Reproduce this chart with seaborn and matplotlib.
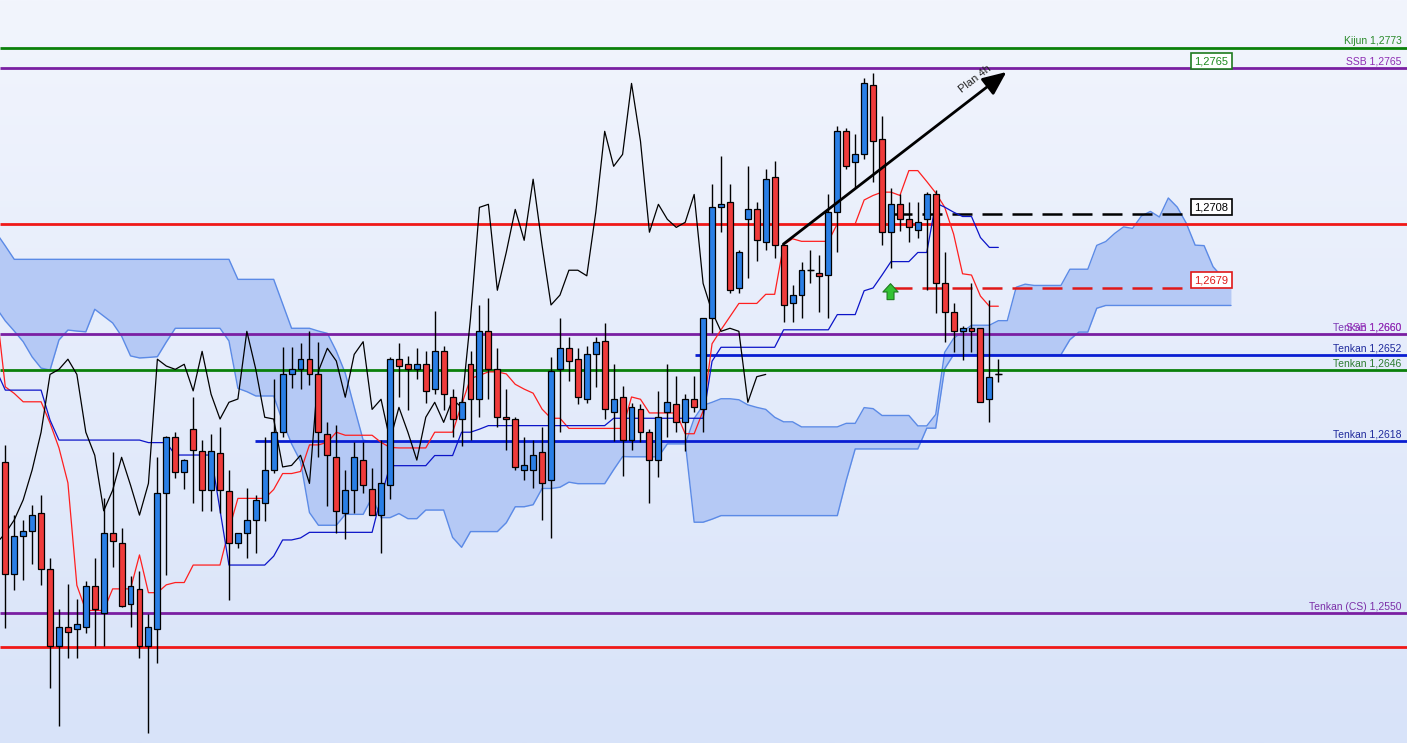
import matplotlib
matplotlib.use("Agg")
import matplotlib.pyplot as plt
import matplotlib.transforms as mtransforms
from matplotlib.colors import LinearSegmentedColormap
import numpy as np
import pandas as pd
import seaborn as sns

# ---- candles (prices) ----
opens = [
    1.26095, 1.25653, 1.25803, 1.25823, 1.25895, 1.25673, 1.25371, 1.25444, 1.25436, 1.25444,
    1.25606, 1.25502, 1.25815, 1.25776, 1.25535, 1.25595, 1.25371, 1.25436, 1.25973, 1.26194,
    1.26056, 1.26227, 1.26141, 1.25985, 1.26133, 1.25983, 1.25776, 1.25815, 1.25868, 1.25934,
    1.26065, 1.26214, 1.26442, 1.26462, 1.26502, 1.26442, 1.26206, 1.26115, 1.25894, 1.25985,
    1.26103, 1.25991, 1.25887, 1.26005, 1.26502, 1.26482, 1.26462, 1.26482, 1.26383, 1.26533,
    1.26352, 1.26266, 1.26482, 1.26345, 1.26612, 1.26462, 1.26273, 1.26266, 1.26064, 1.26064,
    1.26135, 1.26024, 1.26462, 1.26545, 1.26502, 1.26345, 1.26521, 1.26574, 1.26292, 1.26352,
    1.26182, 1.26304, 1.26214, 1.26104, 1.26292, 1.26324, 1.26253, 1.26344, 1.26304, 1.26663,
    1.27101, 1.27121, 1.26782, 1.27054, 1.27093, 1.26963, 1.27220, 1.26951, 1.26723, 1.26755,
    1.26853, 1.26841, 1.26834, 1.27081, 1.27401, 1.27281, 1.27310, 1.27583, 1.27370, 1.27003,
    1.27113, 1.27054, 1.27011, 1.27054, 1.27152, 1.26801, 1.26689, 1.26612, 1.26624, 1.26624,
    1.26344, 1.26442,
]
highs = [
    1.26163, 1.25887, 1.25868, 1.25927, 1.25966, 1.25716, 1.25517, 1.25615, 1.25556, 1.25627,
    1.25716, 1.25953, 1.26136, 1.25835, 1.25646, 1.25666, 1.25496, 1.26117, 1.26199, 1.26216,
    1.26108, 1.26354, 1.26183, 1.26206, 1.26236, 1.26065, 1.25816, 1.25993, 1.25965, 1.26194,
    1.26424, 1.26551, 1.26551, 1.26567, 1.26612, 1.26571, 1.26253, 1.26242, 1.26065, 1.26176,
    1.26176, 1.26072, 1.26183, 1.26512, 1.26567, 1.26515, 1.26545, 1.26535, 1.26692, 1.26554,
    1.26383, 1.26345, 1.26535, 1.26716, 1.26743, 1.26545, 1.26383, 1.26273, 1.26196, 1.26183,
    1.26236, 1.26512, 1.26663, 1.26591, 1.26545, 1.26554, 1.26591, 1.26646, 1.26483, 1.26396,
    1.26328, 1.26324, 1.26227, 1.26378, 1.26483, 1.26436, 1.26365, 1.26436, 1.26663, 1.27192,
    1.27304, 1.27192, 1.26933, 1.27264, 1.27123, 1.27251, 1.27284, 1.26951, 1.26795, 1.26887,
    1.26933, 1.26913, 1.27152, 1.27422, 1.27415, 1.27389, 1.27610, 1.27632, 1.27461, 1.27179,
    1.27152, 1.27123, 1.27123, 1.27163, 1.27169, 1.26924, 1.26723, 1.26634, 1.26801, 1.26624,
    1.26736, 1.26502,
]
lows = [
    1.25443, 1.25593, 1.25632, 1.25695, 1.25611, 1.25206, 1.25056, 1.25324, 1.25324, 1.25423,
    1.25371, 1.25371, 1.25683, 1.25524, 1.25444, 1.25324, 1.25026, 1.25305, 1.25651, 1.26035,
    1.25990, 1.25934, 1.25904, 1.25904, 1.25894, 1.25552, 1.25756, 1.25716, 1.25736, 1.25865,
    1.26053, 1.26196, 1.26387, 1.26383, 1.26400, 1.26115, 1.25924, 1.25815, 1.25793, 1.25894,
    1.25973, 1.25887, 1.25736, 1.25952, 1.26352, 1.26302, 1.26423, 1.26330, 1.26364, 1.26302,
    1.26194, 1.26161, 1.26183, 1.26275, 1.26345, 1.26233, 1.26144, 1.26064, 1.26024, 1.25993,
    1.25866, 1.25795, 1.26214, 1.26416, 1.26324, 1.26330, 1.26393, 1.26265, 1.26179, 1.26042,
    1.26144, 1.26176, 1.25934, 1.26036, 1.26194, 1.26214, 1.26141, 1.26292, 1.26214, 1.26604,
    1.27003, 1.26762, 1.26762, 1.26821, 1.26891, 1.26933, 1.26903, 1.26650, 1.26650, 1.26663,
    1.26801, 1.26689, 1.26663, 1.26924, 1.27252, 1.27176, 1.27291, 1.27200, 1.26951, 1.26861,
    1.27009, 1.26963, 1.26981, 1.26774, 1.26683, 1.26571, 1.26532, 1.26499, 1.26532, 1.26332,
    1.26253, 1.26413,
]
closes = [
    1.25653, 1.25803, 1.25824, 1.25886, 1.25673, 1.25371, 1.25444, 1.25425, 1.25456, 1.25606,
    1.25515, 1.25815, 1.25784, 1.25527, 1.25606, 1.25371, 1.25444, 1.25973, 1.26194, 1.26056,
    1.26103, 1.26143, 1.25985, 1.26141, 1.25985, 1.25776, 1.25815, 1.25868, 1.25947, 1.26065,
    1.26214, 1.26442, 1.26462, 1.26502, 1.26442, 1.26214, 1.26123, 1.25904, 1.25985, 1.26115,
    1.26005, 1.25887, 1.26012, 1.26502, 1.26475, 1.26462, 1.26482, 1.26377, 1.26533, 1.26364,
    1.26266, 1.26332, 1.26345, 1.26612, 1.26462, 1.26273, 1.26266, 1.26077, 1.26083, 1.26123,
    1.26012, 1.26455, 1.26545, 1.26495, 1.26352, 1.26521, 1.26571, 1.26304, 1.26344, 1.26182,
    1.26312, 1.26214, 1.26104, 1.26273, 1.26332, 1.26253, 1.26344, 1.26312, 1.26663, 1.27101,
    1.27113, 1.26774, 1.26924, 1.27093, 1.26971, 1.27212, 1.26951, 1.26716, 1.26755, 1.26853,
    1.26853, 1.26831, 1.27081, 1.27401, 1.27263, 1.27310, 1.27590, 1.27362, 1.27003, 1.27113,
    1.27054, 1.27022, 1.27042, 1.27152, 1.26801, 1.26689, 1.26612, 1.26624, 1.26612, 1.26332,
    1.26433, 1.26442,
]

# ---- ichimoku lines as drawn (first value is the bar just left of the frame) ----
tenkan = [
    1.26704,
    1.26393, 1.26367, 1.26334, 1.26334, 1.26334, 1.26250, 1.26152, 1.26014, 1.25610, 1.25511,
    1.25511, 1.25511, 1.25596, 1.25596, 1.25596, 1.25730, 1.25581, 1.25581, 1.25612, 1.25621,
    1.25621, 1.25690, 1.25690, 1.25690, 1.25690, 1.25829, 1.25953, 1.25953, 1.25953, 1.25953,
    1.25988, 1.26051, 1.26051, 1.26059, 1.26164, 1.26164, 1.26174, 1.26214, 1.26202, 1.26202,
    1.26202, 1.26202, 1.26174, 1.26154, 1.26152, 1.26152, 1.26152, 1.26152, 1.26214, 1.26214,
    1.26214, 1.26322, 1.26426, 1.26438, 1.26452, 1.26452, 1.26444, 1.26403, 1.26384, 1.26368,
    1.26305, 1.26269, 1.26269, 1.26229, 1.26229, 1.26229, 1.26229, 1.26229, 1.26229, 1.26229,
    1.26353, 1.26344, 1.26290, 1.26290, 1.26290, 1.26290, 1.26208, 1.26208, 1.26298, 1.26563,
    1.26618, 1.26670, 1.26722, 1.26722, 1.26722, 1.26758, 1.26758, 1.26954, 1.26977, 1.26967,
    1.26967, 1.26967, 1.26967, 1.27036, 1.27036, 1.27036, 1.27130, 1.27148, 1.27161, 1.27161,
    1.27148, 1.27246, 1.27246, 1.27203, 1.27158, 1.27102, 1.26996, 1.26839, 1.26834, 1.26751,
    1.26711, 1.26711,
]
kijun = [
    1.26458,
    1.26380, 1.26380, 1.26380, 1.26380, 1.26380, 1.26262, 1.26183, 1.26183, 1.26183, 1.26183,
    1.26183, 1.26183, 1.26183, 1.26183, 1.26183, 1.26183, 1.26173, 1.26173, 1.26173, 1.26124,
    1.26124, 1.26124, 1.26124, 1.26124, 1.25907, 1.25690, 1.25690, 1.25690, 1.25690, 1.25690,
    1.25725, 1.25789, 1.25789, 1.25797, 1.25819, 1.25819, 1.25819, 1.25819, 1.25819, 1.25819,
    1.25819, 1.25819, 1.25958, 1.26082, 1.26082, 1.26082, 1.26082, 1.26082, 1.26122, 1.26122,
    1.26122, 1.26214, 1.26214, 1.26226, 1.26240, 1.26240, 1.26240, 1.26240, 1.26240, 1.26240,
    1.26240, 1.26240, 1.26240, 1.26240, 1.26240, 1.26240, 1.26240, 1.26240, 1.26269, 1.26269,
    1.26269, 1.26269, 1.26269, 1.26269, 1.26269, 1.26269, 1.26269, 1.26269, 1.26269, 1.26494,
    1.26549, 1.26549, 1.26549, 1.26549, 1.26549, 1.26549, 1.26549, 1.26618, 1.26618, 1.26618,
    1.26618, 1.26618, 1.26618, 1.26678, 1.26678, 1.26678, 1.26772, 1.26783, 1.26834, 1.26887,
    1.26887, 1.26887, 1.26923, 1.26923, 1.27118, 1.27102, 1.27082, 1.27065, 1.27065, 1.26982,
    1.26943, 1.26943,
]
# cloud, already displaced 26 bars forward (first value left of the frame)
span_a = [
    1.26704,
    1.26653, 1.26613, 1.26571, 1.26511, 1.26467, 1.26459, 1.26578, 1.26617, 1.26613, 1.26610,
    1.26699, 1.26672, 1.26645, 1.26593, 1.26515, 1.26507, 1.26509, 1.26512, 1.26570, 1.26624,
    1.26624, 1.26624, 1.26624, 1.26624, 1.26624, 1.26574, 1.26387, 1.26374, 1.26357, 1.26357,
    1.26357, 1.26256, 1.26168, 1.26099, 1.25897, 1.25847, 1.25847, 1.25847, 1.25890, 1.25890,
    1.25890, 1.25957, 1.25877, 1.25877, 1.25893, 1.25873, 1.25873, 1.25907, 1.25907, 1.25907,
    1.25799, 1.25760, 1.25822, 1.25822, 1.25822, 1.25822, 1.25857, 1.25920, 1.25920, 1.25928,
    1.25992, 1.25992, 1.25997, 1.26017, 1.26011, 1.26011, 1.26011, 1.26011, 1.26066, 1.26118,
    1.26117, 1.26117, 1.26117, 1.26117, 1.26168, 1.26168, 1.26168, 1.26268, 1.26320, 1.26332,
    1.26346, 1.26346, 1.26342, 1.26322, 1.26312, 1.26304, 1.26273, 1.26255, 1.26255, 1.26235,
    1.26235, 1.26235, 1.26235, 1.26235, 1.26249, 1.26249, 1.26311, 1.26307, 1.26280, 1.26280,
    1.26280, 1.26280, 1.26239, 1.26239, 1.26284, 1.26529, 1.26584, 1.26610, 1.26636, 1.26636,
    1.26636, 1.26654, 1.26654, 1.26786, 1.26798, 1.26793, 1.26793, 1.26793, 1.26793, 1.26857,
    1.26857, 1.26857, 1.26951, 1.26966, 1.26998, 1.27024, 1.27018, 1.27067, 1.27085, 1.27063,
    1.27138, 1.27102, 1.27039, 1.26952, 1.26950, 1.26867, 1.26827, 1.26827,
]
span_b = [
    1.27000,
    1.26949, 1.26896, 1.26896, 1.26896, 1.26896, 1.26896, 1.26896, 1.26896, 1.26896, 1.26896,
    1.26896, 1.26896, 1.26896, 1.26896, 1.26896, 1.26896, 1.26896, 1.26896, 1.26896, 1.26896,
    1.26896, 1.26896, 1.26896, 1.26896, 1.26896, 1.26896, 1.26817, 1.26817, 1.26817, 1.26817,
    1.26817, 1.26720, 1.26624, 1.26624, 1.26624, 1.26613, 1.26604, 1.26534, 1.26447, 1.26313,
    1.26183, 1.26175, 1.26175, 1.26175, 1.26175, 1.26175, 1.26175, 1.26175, 1.26175, 1.26175,
    1.26175, 1.26175, 1.26175, 1.26175, 1.26175, 1.26175, 1.26175, 1.26175, 1.26175, 1.26175,
    1.26175, 1.26175, 1.26175, 1.26175, 1.26175, 1.26175, 1.26175, 1.26175, 1.26175, 1.26175,
    1.26175, 1.26175, 1.26175, 1.26175, 1.26175, 1.26175, 1.26175, 1.25859, 1.25859, 1.25871,
    1.25885, 1.25885, 1.25885, 1.25885, 1.25885, 1.25885, 1.25885, 1.25885, 1.25885, 1.25885,
    1.25885, 1.25885, 1.25885, 1.25885, 1.26024, 1.26148, 1.26148, 1.26148, 1.26148, 1.26148,
    1.26148, 1.26148, 1.26148, 1.26230, 1.26230, 1.26464, 1.26520, 1.26520, 1.26520, 1.26520,
    1.26520, 1.26520, 1.26520, 1.26520, 1.26520, 1.26520, 1.26520, 1.26520, 1.26520, 1.26579,
    1.26609, 1.26609, 1.26703, 1.26714, 1.26714, 1.26714, 1.26714, 1.26714, 1.26714, 1.26714,
    1.26714, 1.26714, 1.26714, 1.26714, 1.26714, 1.26714, 1.26714, 1.26714,
]
chikou_lag = 26

# ---- horizontal levels ----
level_prices = [1.2773, 1.2765, 1.27034, 1.2660, 1.2652, 1.2646, 1.2618, 1.2550, 1.25367]
level_colors = ["#0a800a", "#7a1fa2", "#f01818", "#7a1fa2", "#0a1ed2",
                "#0a800a", "#0a1ed2", "#7a1fa2", "#f01818"]
level_starts = [None, None, None, None, 77.1, None, 27.9, None, None]
level_labels = [
    ("Kijun 1,2773", "#2a8a2a"),
    ("SSB 1,2765", "#8e2db3"),
    None,
    ("Tenkan 1,2660", "#7b39b5"),
    ("Tenkan 1,2652", "#1f2a9c"),
    ("Tenkan 1,2646", "#2e7d32"),
    ("Tenkan 1,2618", "#1f2a9c"),
    ("Tenkan (CS) 1,2550", "#7b2fa8"),
    None,
]
extra_label = ("SSB 1,2660", "#9b30b8", 1.2660)

dashed_prices = [1.27075, 1.26783]
dashed_colors = ["black", "#e01818"]
box_labels = [("1,2765", 1.27678, "#1f8a1f", "#1f7a1f"),
              ("1,2708", 1.27102, "black", "black"),
              ("1,2679", 1.26814, "#e01818", "#e01818")]

sns.set_style("white")
plt.rcParams["font.family"] = ["Liberation Sans", "DejaVu Sans"]

fig = plt.figure(figsize=(14.07, 7.43), dpi=100)
ax = fig.add_axes([0, 0, 1, 1])

x_lo, x_hi = -0.592, 156.68
y_lo, y_hi = 1.24988, 1.27919

# background gradient
bg = LinearSegmentedColormap.from_list("bg", ["#f2f5fd", "#d8e3f9"])
ax.imshow(np.linspace(0, 1, 256).reshape(-1, 1), cmap=bg, aspect="auto",
          extent=(x_lo, x_hi, y_lo, y_hi), zorder=0)

candles = pd.DataFrame({"open": opens, "high": highs, "low": lows, "close": closes})
candles["pos"] = np.arange(len(candles))
lines = pd.DataFrame({"pos": np.arange(len(tenkan)) - 1, "tenkan": tenkan, "kijun": kijun})
chikou = pd.DataFrame({"pos": candles["pos"] - chikou_lag, "close": candles["close"]})
cloud = pd.DataFrame({"pos": np.arange(len(span_a)) - 1, "span_a": span_a, "span_b": span_b})

# cloud
ax.fill_between(cloud["pos"], cloud["span_a"], cloud["span_b"],
                color="#b5c9f5", lw=0, zorder=1)
sns.lineplot(data=cloud, x="pos", y="span_a", color="#5b8ae6", lw=1, ax=ax, zorder=2)
sns.lineplot(data=cloud, x="pos", y="span_b", color="#5b8ae6", lw=1, ax=ax, zorder=2)

# levels
for p, c, s in zip(level_prices, level_colors, level_starts):
    ax.hlines(p, x_lo if s is None else s, x_hi, colors=c, lw=2, zorder=3)

trans = mtransforms.blended_transform_factory(ax.transAxes, ax.transData)
for p, lab in zip(level_prices, level_labels):
    if lab is None:
        continue
    ax.annotate(lab[0], xy=(0.9962, p), xycoords=trans, xytext=(0, 2.5),
                textcoords="offset points", ha="right", va="baseline",
                fontsize=7.5, color=lab[1], zorder=6)
# the chart prints two labels on the same level, one over the other
ax.annotate(extra_label[0], xy=(0.9962, extra_label[2]), xycoords=trans,
            xytext=(0, 2.5), textcoords="offset points", ha="right",
            va="baseline", fontsize=7.5, color=extra_label[1], zorder=6)

# dashed targets
for p, c in zip(dashed_prices, dashed_colors):
    ax.plot([99.1, 131.9], [p, p], color=c, lw=1.8, dashes=(8, 4), zorder=3)
for txt, p, tc, ec in box_labels:
    ax.text(134.8, p, txt, ha="center", va="center", fontsize=8, color=tc, zorder=7,
            bbox=dict(boxstyle="square,pad=0.3", fc="white", ec=ec, lw=1.2))

# ichimoku lines
sns.lineplot(data=lines, x="pos", y="tenkan", color="#ff1f1f", lw=0.9, ax=ax, zorder=4)
sns.lineplot(data=lines, x="pos", y="kijun", color="#0c14c8", lw=0.9, ax=ax, zorder=4)
sns.lineplot(data=chikou, x="pos", y="close", color="black", lw=0.9, ax=ax, zorder=4)

# candles
bull = candles["close"] >= candles["open"]
ax.vlines(candles["pos"], candles["low"], candles["high"], colors="black", lw=1, zorder=5)
ax.bar(candles["pos"], candles["close"] - candles["open"], bottom=candles["open"],
       width=0.66, color=np.where(bull, "#2a7fe6", "#ef3b3b"),
       edgecolor="black", linewidth=0.9, zorder=6)
doji = candles[candles["close"] == candles["open"]]
ax.hlines(doji["open"], doji["pos"] - 0.4, doji["pos"] + 0.4, colors="black", lw=1, zorder=6)

# plan arrow
ax.annotate("", xy=(111.9, 1.27635), xytext=(86.97, 1.26956),
            arrowprops=dict(arrowstyle="-|>,head_length=0.8,head_width=0.35",
                            color="black", lw=2, shrinkA=0, shrinkB=0,
                            mutation_scale=18), zorder=8)
ax.text(108.45, 1.27606, "Plan 4h", rotation=38, ha="center", va="center",
        fontsize=8, color="#222222", zorder=8)

# green signal arrow
ax.annotate("", xy=(98.95, 1.26800), xytext=(98.95, 1.26737),
            arrowprops=dict(arrowstyle="simple,head_length=0.6,head_width=1.1,tail_width=0.5",
                            fc="#33c233", ec="#1f7a1f", lw=0.8, shrinkA=0, shrinkB=0,
                            mutation_scale=10), zorder=8)

ax.set_xlim(x_lo, x_hi)
ax.set_ylim(y_lo, y_hi)
ax.set_axis_off()

fig.savefig("out.png", dpi=100)
